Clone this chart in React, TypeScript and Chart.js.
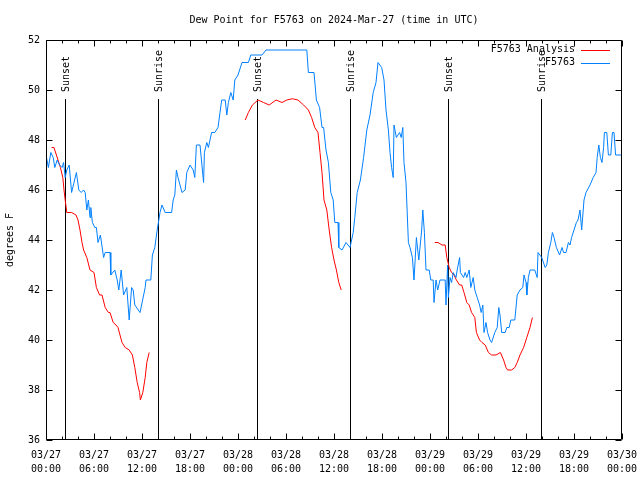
import React, { useEffect, useRef } from 'react';
import { Chart, registerables } from 'chart.js';

Chart.register(...registerables);

const FONT = "'DejaVu Sans Mono', 'Liberation Mono', monospace";

const titleText = 'Dew Point for F5763 on 2024-Mar-27 (time in UTC)';
const yAxisTitle = 'degrees F';

// hours since 2024-03-27 00:00 UTC
const blueHours = [
  0.0, 0.3, 0.6, 0.9, 1.1, 1.4, 1.7, 2.0, 2.2, 2.4, 2.6, 2.9, 3.2, 3.5, 3.8, 4.1, 4.4, 4.7, 4.9, 5.1,
  5.3, 5.5, 5.6, 5.8, 6.1, 6.3, 6.5, 6.8, 7.2, 7.4, 8.0, 8.1, 8.6, 8.9, 9.1, 9.4, 9.7, 10.1, 10.4, 10.7,
  10.9, 11.1, 11.75, 11.95, 12.4, 12.5, 13.1, 13.3, 13.6, 13.9, 14.25, 14.5, 14.9, 15.7, 15.9, 16.1, 16.3, 16.5, 17.0, 17.4,
  17.6, 18.0, 18.4, 18.6, 18.8, 19.25, 19.7, 19.8, 20.1, 20.3, 20.7, 21.1, 21.5, 21.75, 21.96, 22.4, 22.6, 22.8, 23.1, 23.4,
  23.6, 24.0, 24.5, 25.3, 25.6, 27.0, 27.5, 32.6, 32.8, 33.5, 33.8, 34.2, 34.5, 34.7, 35.0, 35.3, 35.6, 35.9, 36.1, 36.5,
  36.6, 37.0, 37.5, 38.0, 38.4, 38.6, 38.9, 39.3, 39.7, 40.1, 40.5, 40.9, 41.25, 41.5, 41.96, 42.25, 42.5, 42.8, 43.0, 43.2,
  43.4, 43.5, 43.8, 44.2, 44.4, 44.6, 44.75, 45.0, 45.3, 45.5, 45.8, 46.0, 46.3, 46.6, 46.96, 47.1, 47.3, 47.5, 47.9, 48.1,
  48.4, 48.5, 48.75, 48.96, 49.25, 49.9, 50.0, 50.2, 50.3, 50.5, 50.7, 50.9, 51.25, 51.4, 51.7, 51.8, 52.2, 52.4, 52.6, 52.9,
  53.1, 53.4, 53.6, 53.9, 54.2, 54.4, 54.6, 54.75, 55.0, 55.2, 55.5, 55.7, 56.1, 56.4, 56.6, 56.75, 56.96, 57.4, 57.6, 57.9,
  58.1, 58.6, 58.9, 59.25, 59.6, 59.75, 60.0, 60.1, 60.3, 60.5, 61.1, 61.4, 61.5, 61.96, 62.4, 62.6, 62.8, 63.1, 63.3, 63.5,
  63.8, 64.2, 64.5, 64.7, 65.0, 65.3, 65.5, 65.7, 66.0, 66.3, 66.5, 66.75, 66.96, 67.25, 67.5, 68.0, 68.4, 68.75, 68.9, 69.1,
  69.3, 69.5, 69.7, 69.8, 70.1, 70.3, 70.6, 70.8, 71.0, 71.2, 72.0,
];
const blueValues = [
  47.4, 46.9, 47.5, 47.3, 46.9, 47.2, 47.0, 46.9, 47.1, 46.5, 46.8, 47.0, 45.9, 46.3, 46.7, 46.0, 45.9, 46.0, 45.9, 45.2,
  45.6, 44.9, 45.3, 44.7, 44.5, 44.5, 43.9, 44.2, 43.3, 43.5, 43.5, 42.6, 42.8, 42.4, 42.0, 42.8, 41.8, 42.1, 40.8, 42.1,
  42.0, 41.4, 41.1, 41.4, 42.1, 42.4, 42.4, 43.4, 43.7, 44.4, 45.1, 45.4, 45.1, 45.1, 45.6, 45.8, 46.8, 46.5, 45.9, 46.0,
  46.7, 47.0, 46.8, 46.5, 47.8, 47.8, 46.3, 47.5, 47.9, 47.7, 48.3, 48.3, 48.5, 49.1, 49.6, 49.6, 49.0, 49.5, 49.9, 49.6,
  50.4, 50.6, 51.1, 51.1, 51.4, 51.4, 51.6, 51.6, 50.7, 50.7, 49.6, 49.3, 48.5, 48.5, 47.6, 47.1, 45.9, 45.6, 44.7, 44.7,
  43.7, 43.6, 43.9, 43.7, 44.3, 44.9, 45.9, 46.4, 47.3, 48.4, 49.0, 49.9, 50.3, 51.1, 50.9, 50.4, 49.2, 48.4, 47.5, 46.9,
  46.5, 48.6, 48.1, 48.3, 48.1, 48.5, 47.1, 46.3, 43.9, 43.7, 43.3, 42.4, 44.1, 43.2, 44.4, 45.2, 44.3, 42.8, 42.8, 42.4,
  42.4, 41.5, 42.4, 42.0, 42.4, 42.4, 41.4, 43.0, 41.7, 42.5, 42.3, 42.7, 42.5, 42.8, 43.3, 42.7, 42.5, 42.7, 42.5, 42.8,
  42.1, 42.5, 42.0, 41.7, 41.4, 41.1, 41.4, 40.3, 40.7, 40.3, 40.0, 39.9, 40.3, 40.5, 41.3, 41.0, 40.3, 40.3, 40.5, 40.5,
  40.8, 40.8, 41.8, 42.0, 42.1, 42.6, 42.3, 41.8, 42.5, 42.8, 42.8, 42.5, 43.5, 43.3, 42.9, 43.0, 43.5, 43.9, 44.3, 44.1,
  43.7, 43.4, 43.7, 43.5, 43.5, 43.9, 43.8, 44.1, 44.4, 44.7, 44.8, 45.2, 44.4, 45.6, 45.9, 46.2, 46.5, 46.7, 47.3, 47.8,
  47.3, 47.1, 47.7, 48.3, 48.3, 47.4, 47.4, 48.3, 48.3, 47.4, 47.4,
];

// analysis series: null marks a gap between the three runs
const redHours = [
  0.7, 1.0, 1.3, 1.6, 1.8, 2.1, 2.25, 2.4, 2.6, 3.2, 3.75, 4.0, 4.25, 4.5, 4.7, 5.1, 5.5, 6.0, 6.3, 6.7,
  7.0, 7.4, 7.8, 8.0, 8.4, 8.75, 9.0, 9.5, 9.9, 10.4, 10.8, 11.1, 11.4, 11.7, 11.8, 12.1, 12.4, 12.6, 12.9,
  18.0,
  24.9, 25.3, 25.8, 26.5, 27.2, 27.9, 28.75, 29.5, 30.1, 30.8, 31.5, 32.2, 32.8, 33.2, 33.6, 34.0, 34.25, 34.5, 34.75, 35.1,
  35.4, 35.7, 36.0, 36.3, 36.6, 36.9,
  42.0,
  48.6, 49.0, 49.5, 49.9, 50.1, 50.4, 50.7, 51.0, 51.3, 51.7, 51.96, 52.25, 52.6, 52.9, 53.2, 53.6, 53.8, 54.2, 54.5, 54.9,
  55.3, 55.7, 56.25, 56.8, 57.2, 57.5, 57.7, 58.2, 58.6, 58.9, 59.25, 59.7, 60.1, 60.5, 60.8,
];
const redValues = [
  47.7, 47.7, 47.4, 47.1, 46.9, 46.5, 46.0, 45.6, 45.1, 45.1, 45.0, 44.8, 44.4, 43.9, 43.6, 43.3, 42.8, 42.7, 42.1, 41.8,
  41.8, 41.3, 41.1, 41.1, 40.7, 40.6, 40.5, 39.9, 39.7, 39.6, 39.4, 38.9, 38.3, 37.9, 37.6, 37.9, 38.5, 39.1, 39.5,
  null,
  48.8, 49.1, 49.4, 49.6, 49.5, 49.4, 49.6, 49.5, 49.6, 49.65, 49.6, 49.4, 49.2, 48.9, 48.5, 48.3, 47.5, 46.7, 45.6, 45.2,
  44.4, 43.7, 43.2, 42.8, 42.3, 42.0,
  null,
  43.9, 43.9, 43.8, 43.8, 43.3, 42.9, 42.7, 42.6, 42.4, 42.2, 42.2, 41.9, 41.5, 41.4, 41.1, 40.9, 40.3, 40.0, 39.9, 39.8,
  39.5, 39.4, 39.4, 39.5, 39.2, 38.9, 38.8, 38.8, 38.9, 39.1, 39.4, 39.7, 40.1, 40.5, 40.9,
];

const sunHours = [2.4, 14.04, 26.4, 38.0, 50.3, 61.9];
const sunLabels = ['Sunset', 'Sunrise', 'Sunset', 'Sunrise', 'Sunset', 'Sunrise'];
const sunLineTop = 49.65;

const seriesNames = ['F5763 Analysis', 'F5763'];
const seriesColors = ['#ff0000', '#0080ff'];

const xMin = 0;
const xMax = 72;
const xTickStep = 2;
const xLabelStep = 6;
const yMin = 36;
const yMax = 52;
const yTickStep = 2;

function pad2(n: number) {
  return n < 10 ? '0' + n : String(n);
}

function xLabel(v: number): string[] | string {
  if (v % xLabelStep !== 0) return '';
  const day = 27 + Math.floor(v / 24);
  const hh = v % 24;
  return ['03/' + pad2(day), pad2(hh) + ':00'];
}

export default function App() {
  const ref = useRef<HTMLCanvasElement>(null);

  useEffect(() => {
    const canvas = ref.current;
    if (!canvas) return;

    const decor = {
      id: 'gnuplotDecor',
      beforeDatasetsDraw(chart: any) {
        const { ctx, chartArea, scales } = chart;
        const xs = scales.x;
        const ys = scales.y;
        ctx.save();
        ctx.strokeStyle = '#000';
        ctx.lineWidth = 1;
        const top = Math.round(ys.getPixelForValue(sunLineTop));
        sunHours.forEach((h, i) => {
          const px = Math.round(xs.getPixelForValue(h)) + 0.5;
          ctx.beginPath();
          ctx.moveTo(px, top);
          ctx.lineTo(px, chartArea.bottom);
          ctx.stroke();
          ctx.save();
          ctx.translate(px + 1, top - 7);
          ctx.rotate(-Math.PI / 2);
          ctx.fillStyle = '#000';
          ctx.font = '10px ' + FONT;
          ctx.textAlign = 'left';
          ctx.textBaseline = 'middle';
          ctx.fillText(sunLabels[i], 0, 0);
          ctx.restore();
        });
        ctx.restore();
      },
      afterDatasetsDraw(chart: any) {
        const { ctx, chartArea, scales } = chart;
        const xs = scales.x;
        const ys = scales.y;
        const L = chartArea.left + 0.5;
        const R = chartArea.right - 0.5;
        const T = chartArea.top + 0.5;
        const B = chartArea.bottom - 0.5;
        ctx.save();
        ctx.strokeStyle = '#000';
        ctx.lineWidth = 1;
        ctx.beginPath();
        ctx.rect(L, T, R - L, B - T);
        ctx.stroke();
        // x ticks (inward, mirrored)
        xs.ticks.forEach((t: any) => {
          const px = Math.round(xs.getPixelForValue(t.value)) + 0.5;
          const len = t.value % xLabelStep === 0 ? 6 : 3;
          ctx.beginPath();
          ctx.moveTo(px, B);
          ctx.lineTo(px, B - len);
          ctx.moveTo(px, T);
          ctx.lineTo(px, T + len);
          ctx.stroke();
        });
        ys.ticks.forEach((t: any) => {
          const py = Math.round(ys.getPixelForValue(t.value)) + 0.5;
          ctx.beginPath();
          ctx.moveTo(L, py);
          ctx.lineTo(L + 6, py);
          ctx.moveTo(R, py);
          ctx.lineTo(R - 6, py);
          ctx.stroke();
        });
        // title
        ctx.fillStyle = '#000';
        ctx.font = '10px ' + FONT;
        ctx.textAlign = 'center';
        ctx.textBaseline = 'middle';
        ctx.fillText(titleText, (chartArea.left + chartArea.right) / 2, 20);
        // y axis title
        ctx.save();
        ctx.translate(10, (chartArea.top + chartArea.bottom) / 2);
        ctx.rotate(-Math.PI / 2);
        ctx.fillText(yAxisTitle, 0, 0);
        ctx.restore();
        // legend
        chart.data.datasets.forEach((ds: any, i: number) => {
          const ly = chartArea.top + 9.5 + i * 13;
          const textRight = chartArea.right - 47;
          ctx.textAlign = 'right';
          ctx.fillStyle = '#000';
          ctx.fillText(ds.label, textRight, ly);
          ctx.strokeStyle = ds.borderColor;
          ctx.beginPath();
          ctx.moveTo(textRight + 6, Math.round(ly) + 0.5);
          ctx.lineTo(textRight + 35, Math.round(ly) + 0.5);
          ctx.stroke();
        });
        ctx.restore();
      },
    };

    const chart = new Chart(canvas, {
      type: 'line',
      data: {
        datasets: [
          {
            label: seriesNames[0],
            data: redHours.map((h, i) => ({ x: h, y: redValues[i] })),
            borderColor: seriesColors[0],
            backgroundColor: seriesColors[0],
            borderWidth: 1,
            pointRadius: 0,
            tension: 0,
            spanGaps: false,
            order: 1,
          },
          {
            label: seriesNames[1],
            data: blueHours.map((h, i) => ({ x: h, y: blueValues[i] })),
            borderColor: seriesColors[1],
            backgroundColor: seriesColors[1],
            borderWidth: 1,
            pointRadius: 0,
            tension: 0,
            order: 0,
          },
        ],
      },
      options: {
        responsive: false,
        animation: false,
        devicePixelRatio: 1,
        layout: { padding: { top: 40, right: 18, left: 0, bottom: 0 } },
        plugins: {
          legend: { display: false },
          title: { display: false },
          tooltip: { enabled: false },
        },
        scales: {
          x: {
            type: 'linear',
            min: xMin,
            max: xMax,
            afterFit: (s: any) => {
              s.height = 40;
              s.paddingLeft = 0;
              s.paddingRight = 0;
            },
            grid: { display: false, drawTicks: false },
            border: { display: false },
            ticks: {
              stepSize: xTickStep,
              autoSkip: false,
              maxRotation: 0,
              minRotation: 0,
              padding: 8,
              color: '#000',
              font: { family: FONT, size: 10, lineHeight: '14px' },
              callback: (v: any) => xLabel(Number(v)),
            },
          },
          y: {
            type: 'linear',
            min: yMin,
            max: yMax,
            afterFit: (s: any) => {
              s.width = 46;
              s.paddingTop = 0;
              s.paddingBottom = 0;
            },
            grid: { display: false, drawTicks: false },
            border: { display: false },
            ticks: {
              stepSize: yTickStep,
              padding: 6,
              color: '#000',
              font: { family: FONT, size: 10 },
            },
          },
        },
      },
      plugins: [decor],
    });

    return () => chart.destroy();
  }, []);

  return (
    <div style={{ position: 'fixed', left: 0, top: 0, width: 640, height: 480, background: '#fff' }}>
      <canvas ref={ref} width={640} height={480} style={{ width: 640, height: 480, display: 'block' }} />
    </div>
  );
}
